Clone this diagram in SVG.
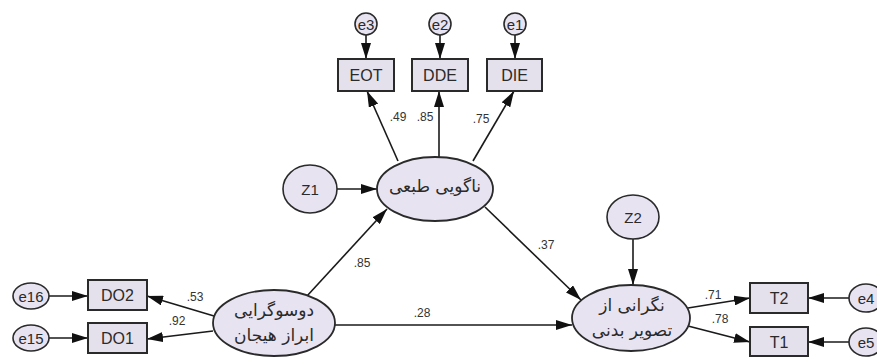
<svg xmlns="http://www.w3.org/2000/svg" width="877" height="358" viewBox="0 0 877 358">
<defs>
<marker id="ah" viewBox="0 0 16 10" refX="16" refY="5" markerWidth="16" markerHeight="10" markerUnits="userSpaceOnUse" orient="auto">
<path d="M0,0 L16,5 L0,10 Z" fill="#111"/>
</marker>
<style>
.lat{fill:#e8e3f1;stroke:#2a2a2a;stroke-width:1.8}
.box{fill:#e4e1ec;stroke:#2a2a2a;stroke-width:2}
.err{fill:#e8e3f1;stroke:#2a2a2a;stroke-width:1.6}
.c{stroke:#1a1a1a;stroke-width:1.6;fill:none;marker-end:url(#ah)}
.t{font-family:"Liberation Sans",Arial,sans-serif;fill:#2a2a2a;text-anchor:middle;dominant-baseline:central}
.bt{font-size:16px}
.et{font-size:15px}
.nl{font-family:"Liberation Sans",Arial,sans-serif;fill:#333;font-size:12px;text-anchor:middle;dominant-baseline:central}
.fa{font-family:"DejaVu Sans","Noto Sans",sans-serif;fill:#2a2a2a;font-size:17px;text-anchor:middle;dominant-baseline:central}
</style>
</defs>
<rect x="0" y="0" width="877" height="358" fill="#ffffff"/>

<g id="connectors">
<line class="c" x1="366" y1="35" x2="366" y2="59"/>
<line class="c" x1="440" y1="35" x2="440" y2="59"/>
<line class="c" x1="515" y1="35" x2="515" y2="59"/>
<line class="c" x1="398" y1="161" x2="367" y2="91"/>
<line class="c" x1="439" y1="157" x2="439" y2="91"/>
<line class="c" x1="473" y1="161" x2="514" y2="91"/>
<line class="c" x1="337" y1="189" x2="377" y2="189"/>
<line class="c" x1="307" y1="296" x2="387" y2="209"/>
<line class="c" x1="335" y1="325" x2="572" y2="325"/>
<line class="c" x1="485" y1="207" x2="581" y2="300"/>
<line class="c" x1="633" y1="239" x2="633" y2="285"/>
<line class="c" x1="688" y1="308" x2="750" y2="298"/>
<line class="c" x1="688" y1="326" x2="750" y2="342"/>
<line class="c" x1="849" y1="298" x2="808" y2="298"/>
<line class="c" x1="849" y1="342" x2="808" y2="342"/>
<line class="c" x1="49" y1="296" x2="88" y2="296"/>
<line class="c" x1="49" y1="338" x2="88" y2="338"/>
<line class="c" x1="214" y1="316" x2="147" y2="296"/>
<line class="c" x1="213" y1="331" x2="147" y2="339"/>
<text class="nl" x="398" y="117">.49</text>
<text class="nl" x="425" y="117">.85</text>
<text class="nl" x="481" y="119">.75</text>
<text class="nl" x="362" y="263">.85</text>
<text class="nl" x="422" y="313">.28</text>
<text class="nl" x="546" y="245">.37</text>
<text class="nl" x="713" y="295">.71</text>
<text class="nl" x="720" y="319">.78</text>
<text class="nl" x="195" y="297">.53</text>
<text class="nl" x="177" y="321">.92</text>
</g>

<g id="e3"><ellipse class="err" cx="366" cy="24" rx="11" ry="11"/><text class="t et" x="366" y="24">e3</text></g>
<g id="e2"><ellipse class="err" cx="440" cy="24" rx="11" ry="11"/><text class="t et" x="440" y="24">e2</text></g>
<g id="e1"><ellipse class="err" cx="515" cy="24" rx="11" ry="11"/><text class="t et" x="515" y="24">e1</text></g>

<g id="EOT"><rect class="box" x="338" y="59" width="56" height="32"/><text class="t bt" x="366" y="75">EOT</text></g>
<g id="DDE"><rect class="box" x="412" y="59" width="56" height="32"/><text class="t bt" x="440" y="75">DDE</text></g>
<g id="DIE"><rect class="box" x="487" y="59" width="55" height="32"/><text class="t bt" x="514.5" y="75">DIE</text></g>

<g id="alexithymia"><ellipse class="lat" cx="435" cy="189" rx="58" ry="32"/><text class="fa" x="435" y="186" direction="rtl" unicode-bidi="embed">ناگویی طبعی</text></g>

<g id="Z1"><ellipse class="err" cx="310" cy="189" rx="27" ry="24"/><text class="t et" x="310" y="189">Z1</text></g>
<g id="Z2"><ellipse class="err" cx="633" cy="217" rx="26" ry="22"/><text class="t et" x="633" y="217">Z2</text></g>

<g id="ambivalence"><ellipse class="lat" cx="274" cy="323" rx="61" ry="33"/>
<text class="fa" x="274" y="310" direction="rtl" unicode-bidi="embed">دوسوگرایی</text>
<text class="fa" x="274" y="335" direction="rtl" unicode-bidi="embed">ابراز هیجان</text></g>

<g id="bodyimage"><ellipse class="lat" cx="631" cy="318" rx="59" ry="33"/>
<text class="fa" x="632" y="305" direction="rtl" unicode-bidi="embed">نگرانی از</text>
<text class="fa" x="632" y="330" direction="rtl" unicode-bidi="embed">تصویر بدنی</text></g>

<g id="DO2"><rect class="box" x="88" y="280" width="59" height="30"/><text class="t bt" x="117.5" y="295">DO2</text></g>
<g id="DO1"><rect class="box" x="88" y="323" width="59" height="30"/><text class="t bt" x="117.5" y="338">DO1</text></g>
<g id="e16"><ellipse class="err" cx="31" cy="296" rx="18" ry="13"/><text class="t et" x="31" y="296">e16</text></g>
<g id="e15"><ellipse class="err" cx="31" cy="338" rx="18" ry="13"/><text class="t et" x="31" y="338">e15</text></g>

<g id="T2"><rect class="box" x="750" y="283" width="58" height="30"/><text class="t bt" x="779" y="298">T2</text></g>
<g id="T1"><rect class="box" x="750" y="327" width="58" height="29"/><text class="t bt" x="779" y="342">T1</text></g>
<g id="e4"><ellipse class="err" cx="866" cy="298" rx="17" ry="14"/><text class="t et" x="866" y="298">e4</text></g>
<g id="e5"><ellipse class="err" cx="866" cy="342" rx="17" ry="14"/><text class="t et" x="866" y="342">e5</text></g>
</svg>
